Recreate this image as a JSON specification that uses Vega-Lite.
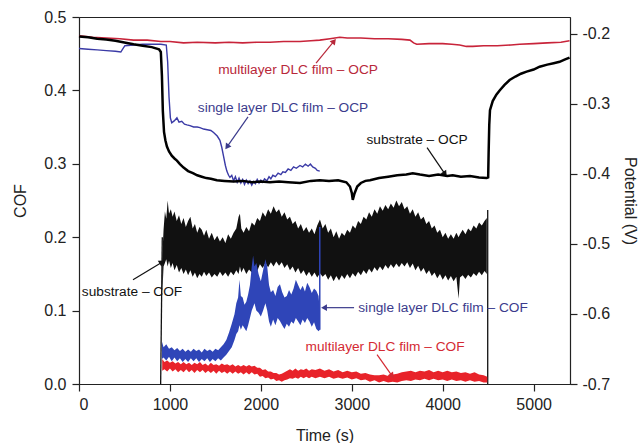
{
  "$schema": "https://vega.github.io/schema/vega-lite/v6.json",
  "width": 491,
  "height": 367,
  "autosize": {"type": "none"},
  "padding": {"left": 79, "top": 17, "right": 70, "bottom": 59},
  "background": "white",
  "config": {
    "view": {"stroke": "#222", "strokeWidth": 1},
    "axis": {"labelFont": "Liberation Sans", "titleFont": "Liberation Sans", "labelFontSize": 16, "titleFontSize": 16, "titleFontWeight": "normal", "grid": false, "domainColor": "#222", "tickColor": "#222", "labelColor": "#222", "titleColor": "#222", "tickSize": 7, "domainWidth": 1.2, "tickWidth": 1.2}
  },
  "datasets": {
    "subCOF": [
      {"t":915,"lo":0.12,"hi":0.17},{"t":930,"lo":0.16,"hi":0.21},{"t":945,"lo":0.165,"hi":0.235},{"t":960,"lo":0.17,"hi":0.225},{"t":975,"lo":0.16,"hi":0.25},{"t":990,"lo":0.168,"hi":0.232},{"t":1010,"lo":0.158,"hi":0.238},{"t":1030,"lo":0.165,"hi":0.228},{"t":1050,"lo":0.155,"hi":0.235},{"t":1075,"lo":0.162,"hi":0.222},{"t":1100,"lo":0.152,"hi":0.23},{"t":1125,"lo":0.158,"hi":0.218},{"t":1150,"lo":0.15,"hi":0.226},{"t":1175,"lo":0.156,"hi":0.214},{"t":1200,"lo":0.148,"hi":0.222},{"t":1225,"lo":0.155,"hi":0.228},{"t":1250,"lo":0.146,"hi":0.212},{"t":1275,"lo":0.152,"hi":0.218},{"t":1300,"lo":0.144,"hi":0.206},{"t":1325,"lo":0.15,"hi":0.214},{"t":1350,"lo":0.146,"hi":0.21},{"t":1375,"lo":0.153,"hi":0.202},{"t":1400,"lo":0.147,"hi":0.21},{"t":1430,"lo":0.152,"hi":0.198},{"t":1460,"lo":0.145,"hi":0.206},{"t":1490,"lo":0.15,"hi":0.196},{"t":1520,"lo":0.146,"hi":0.202},{"t":1550,"lo":0.153,"hi":0.194},{"t":1580,"lo":0.147,"hi":0.2},{"t":1610,"lo":0.152,"hi":0.192},{"t":1640,"lo":0.146,"hi":0.204},{"t":1670,"lo":0.153,"hi":0.198},{"t":1700,"lo":0.148,"hi":0.206},{"t":1730,"lo":0.155,"hi":0.212},{"t":1755,"lo":0.15,"hi":0.228},{"t":1770,"lo":0.16,"hi":0.232},{"t":1785,"lo":0.152,"hi":0.212},{"t":1810,"lo":0.158,"hi":0.206},{"t":1840,"lo":0.15,"hi":0.214},{"t":1870,"lo":0.156,"hi":0.208},{"t":1900,"lo":0.152,"hi":0.22},{"t":1930,"lo":0.16,"hi":0.216},{"t":1960,"lo":0.154,"hi":0.226},{"t":1990,"lo":0.163,"hi":0.222},{"t":2020,"lo":0.158,"hi":0.234},{"t":2050,"lo":0.165,"hi":0.228},{"t":2080,"lo":0.159,"hi":0.238},{"t":2110,"lo":0.166,"hi":0.232},{"t":2140,"lo":0.16,"hi":0.242},{"t":2170,"lo":0.167,"hi":0.234},{"t":2200,"lo":0.161,"hi":0.238},{"t":2230,"lo":0.166,"hi":0.228},{"t":2260,"lo":0.158,"hi":0.234},{"t":2290,"lo":0.163,"hi":0.224},{"t":2320,"lo":0.155,"hi":0.228},{"t":2350,"lo":0.16,"hi":0.218},{"t":2380,"lo":0.152,"hi":0.222},{"t":2410,"lo":0.158,"hi":0.212},{"t":2440,"lo":0.15,"hi":0.218},{"t":2470,"lo":0.155,"hi":0.208},{"t":2500,"lo":0.147,"hi":0.214},{"t":2530,"lo":0.153,"hi":0.206},{"t":2560,"lo":0.146,"hi":0.212},{"t":2590,"lo":0.152,"hi":0.204},{"t":2620,"lo":0.145,"hi":0.216},{"t":2650,"lo":0.151,"hi":0.224},{"t":2680,"lo":0.146,"hi":0.212},{"t":2710,"lo":0.15,"hi":0.218},{"t":2740,"lo":0.142,"hi":0.206},{"t":2770,"lo":0.148,"hi":0.212},{"t":2800,"lo":0.14,"hi":0.2},{"t":2830,"lo":0.147,"hi":0.208},{"t":2860,"lo":0.141,"hi":0.198},{"t":2890,"lo":0.148,"hi":0.206},{"t":2920,"lo":0.143,"hi":0.202},{"t":2950,"lo":0.15,"hi":0.21},{"t":2980,"lo":0.144,"hi":0.206},{"t":3010,"lo":0.151,"hi":0.216},{"t":3040,"lo":0.146,"hi":0.212},{"t":3070,"lo":0.153,"hi":0.222},{"t":3100,"lo":0.148,"hi":0.218},{"t":3130,"lo":0.155,"hi":0.228},{"t":3160,"lo":0.15,"hi":0.224},{"t":3190,"lo":0.157,"hi":0.234},{"t":3220,"lo":0.152,"hi":0.228},{"t":3250,"lo":0.159,"hi":0.238},{"t":3280,"lo":0.154,"hi":0.232},{"t":3310,"lo":0.16,"hi":0.242},{"t":3340,"lo":0.155,"hi":0.236},{"t":3370,"lo":0.162,"hi":0.244},{"t":3400,"lo":0.157,"hi":0.238},{"t":3430,"lo":0.163,"hi":0.246},{"t":3460,"lo":0.158,"hi":0.24},{"t":3490,"lo":0.164,"hi":0.25},{"t":3520,"lo":0.159,"hi":0.242},{"t":3550,"lo":0.165,"hi":0.248},{"t":3580,"lo":0.16,"hi":0.238},{"t":3610,"lo":0.166,"hi":0.242},{"t":3640,"lo":0.158,"hi":0.232},{"t":3670,"lo":0.164,"hi":0.238},{"t":3700,"lo":0.155,"hi":0.228},{"t":3730,"lo":0.161,"hi":0.234},{"t":3760,"lo":0.153,"hi":0.224},{"t":3790,"lo":0.158,"hi":0.228},{"t":3820,"lo":0.15,"hi":0.218},{"t":3850,"lo":0.155,"hi":0.222},{"t":3880,"lo":0.147,"hi":0.212},{"t":3910,"lo":0.152,"hi":0.216},{"t":3940,"lo":0.144,"hi":0.206},{"t":3970,"lo":0.15,"hi":0.21},{"t":4000,"lo":0.142,"hi":0.2},{"t":4030,"lo":0.148,"hi":0.206},{"t":4060,"lo":0.141,"hi":0.198},{"t":4090,"lo":0.147,"hi":0.204},{"t":4120,"lo":0.14,"hi":0.198},{"t":4150,"lo":0.146,"hi":0.206},{"t":4175,"lo":0.116,"hi":0.2},{"t":4190,"lo":0.145,"hi":0.204},{"t":4220,"lo":0.148,"hi":0.21},{"t":4250,"lo":0.143,"hi":0.204},{"t":4280,"lo":0.149,"hi":0.212},{"t":4310,"lo":0.145,"hi":0.208},{"t":4340,"lo":0.151,"hi":0.216},{"t":4370,"lo":0.147,"hi":0.212},{"t":4400,"lo":0.153,"hi":0.22},{"t":4430,"lo":0.148,"hi":0.216},{"t":4460,"lo":0.154,"hi":0.222},{"t":4485,"lo":0.15,"hi":0.226}
    ],
    "subEdges": [
      {"t":898,"lo":0.0,"t2":916,"hi":0.2},
      {"t":4495,"lo":0.0,"t2":4495,"hi":0.237}
    ],
    "singleCOF": [
      {"t":912,"lo":0.034,"hi":0.058},{"t":930,"lo":0.036,"hi":0.05},{"t":960,"lo":0.032,"hi":0.054},{"t":990,"lo":0.037,"hi":0.048},{"t":1020,"lo":0.031,"hi":0.05},{"t":1050,"lo":0.036,"hi":0.046},{"t":1080,"lo":0.031,"hi":0.049},{"t":1110,"lo":0.035,"hi":0.045},{"t":1140,"lo":0.03,"hi":0.048},{"t":1170,"lo":0.034,"hi":0.044},{"t":1200,"lo":0.03,"hi":0.047},{"t":1230,"lo":0.035,"hi":0.044},{"t":1260,"lo":0.031,"hi":0.048},{"t":1290,"lo":0.035,"hi":0.045},{"t":1320,"lo":0.03,"hi":0.047},{"t":1350,"lo":0.034,"hi":0.043},{"t":1380,"lo":0.031,"hi":0.048},{"t":1410,"lo":0.035,"hi":0.045},{"t":1440,"lo":0.03,"hi":0.047},{"t":1470,"lo":0.034,"hi":0.044},{"t":1500,"lo":0.031,"hi":0.048},{"t":1530,"lo":0.035,"hi":0.046},{"t":1560,"lo":0.032,"hi":0.05},{"t":1590,"lo":0.036,"hi":0.054},{"t":1620,"lo":0.04,"hi":0.06},{"t":1650,"lo":0.045,"hi":0.07},{"t":1680,"lo":0.05,"hi":0.082},{"t":1710,"lo":0.06,"hi":0.095},{"t":1730,"lo":0.068,"hi":0.11},{"t":1750,"lo":0.072,"hi":0.118},{"t":1765,"lo":0.08,"hi":0.142},{"t":1780,"lo":0.074,"hi":0.12},{"t":1800,"lo":0.08,"hi":0.118},{"t":1820,"lo":0.076,"hi":0.108},{"t":1840,"lo":0.072,"hi":0.112},{"t":1860,"lo":0.08,"hi":0.122},{"t":1880,"lo":0.09,"hi":0.135},{"t":1900,"lo":0.1,"hi":0.16},{"t":1915,"lo":0.105,"hi":0.175},{"t":1930,"lo":0.11,"hi":0.16},{"t":1950,"lo":0.1,"hi":0.165},{"t":1975,"lo":0.097,"hi":0.15},{"t":2000,"lo":0.092,"hi":0.14},{"t":2025,"lo":0.1,"hi":0.155},{"t":2050,"lo":0.11,"hi":0.17},{"t":2070,"lo":0.1,"hi":0.16},{"t":2090,"lo":0.085,"hi":0.135},{"t":2110,"lo":0.078,"hi":0.125},{"t":2135,"lo":0.088,"hi":0.128},{"t":2160,"lo":0.08,"hi":0.12},{"t":2185,"lo":0.09,"hi":0.132},{"t":2210,"lo":0.086,"hi":0.136},{"t":2235,"lo":0.08,"hi":0.125},{"t":2260,"lo":0.075,"hi":0.118},{"t":2285,"lo":0.082,"hi":0.12},{"t":2310,"lo":0.078,"hi":0.128},{"t":2335,"lo":0.085,"hi":0.122},{"t":2360,"lo":0.082,"hi":0.13},{"t":2385,"lo":0.09,"hi":0.142},{"t":2410,"lo":0.085,"hi":0.135},{"t":2435,"lo":0.08,"hi":0.128},{"t":2460,"lo":0.088,"hi":0.134},{"t":2485,"lo":0.083,"hi":0.126},{"t":2510,"lo":0.09,"hi":0.138},{"t":2535,"lo":0.085,"hi":0.132},{"t":2560,"lo":0.078,"hi":0.124},{"t":2585,"lo":0.084,"hi":0.13},{"t":2610,"lo":0.075,"hi":0.127},{"t":2635,"lo":0.072,"hi":0.12},{"t":2648,"lo":0.074,"hi":0.1}
    ],
    "singleEdges": [
      {"t":2648,"lo":0.074,"t2":2648,"hi":0.214}
    ],
    "multiCOF": [
      {"t":915,"lo":0.018,"hi":0.034},{"t":940,"lo":0.02,"hi":0.03},{"t":970,"lo":0.017,"hi":0.032},{"t":1000,"lo":0.021,"hi":0.029},{"t":1030,"lo":0.017,"hi":0.031},{"t":1060,"lo":0.02,"hi":0.028},{"t":1090,"lo":0.016,"hi":0.03},{"t":1120,"lo":0.019,"hi":0.027},{"t":1150,"lo":0.016,"hi":0.03},{"t":1180,"lo":0.02,"hi":0.027},{"t":1210,"lo":0.016,"hi":0.029},{"t":1240,"lo":0.019,"hi":0.026},{"t":1270,"lo":0.015,"hi":0.029},{"t":1300,"lo":0.019,"hi":0.027},{"t":1330,"lo":0.016,"hi":0.03},{"t":1360,"lo":0.019,"hi":0.026},{"t":1390,"lo":0.015,"hi":0.028},{"t":1420,"lo":0.018,"hi":0.025},{"t":1450,"lo":0.015,"hi":0.029},{"t":1480,"lo":0.018,"hi":0.026},{"t":1510,"lo":0.014,"hi":0.027},{"t":1540,"lo":0.018,"hi":0.025},{"t":1570,"lo":0.015,"hi":0.028},{"t":1600,"lo":0.017,"hi":0.026},{"t":1630,"lo":0.014,"hi":0.027},{"t":1660,"lo":0.017,"hi":0.025},{"t":1690,"lo":0.014,"hi":0.027},{"t":1720,"lo":0.017,"hi":0.024},{"t":1750,"lo":0.014,"hi":0.026},{"t":1780,"lo":0.016,"hi":0.024},{"t":1810,"lo":0.013,"hi":0.026},{"t":1840,"lo":0.016,"hi":0.024},{"t":1870,"lo":0.013,"hi":0.026},{"t":1900,"lo":0.016,"hi":0.024},{"t":1930,"lo":0.013,"hi":0.025},{"t":1960,"lo":0.014,"hi":0.022},{"t":1990,"lo":0.01,"hi":0.022},{"t":2020,"lo":0.011,"hi":0.019},{"t":2050,"lo":0.008,"hi":0.02},{"t":2080,"lo":0.009,"hi":0.017},{"t":2110,"lo":0.006,"hi":0.017},{"t":2140,"lo":0.007,"hi":0.015},{"t":2170,"lo":0.004,"hi":0.015},{"t":2200,"lo":0.005,"hi":0.013},{"t":2230,"lo":0.003,"hi":0.014},{"t":2260,"lo":0.005,"hi":0.016},{"t":2290,"lo":0.006,"hi":0.018},{"t":2320,"lo":0.008,"hi":0.02},{"t":2350,"lo":0.007,"hi":0.018},{"t":2380,"lo":0.009,"hi":0.021},{"t":2410,"lo":0.007,"hi":0.018},{"t":2440,"lo":0.01,"hi":0.02},{"t":2470,"lo":0.008,"hi":0.019},{"t":2500,"lo":0.01,"hi":0.021},{"t":2530,"lo":0.008,"hi":0.018},{"t":2560,"lo":0.01,"hi":0.02},{"t":2600,"lo":0.008,"hi":0.019},{"t":2650,"lo":0.01,"hi":0.021},{"t":2700,"lo":0.008,"hi":0.018},{"t":2750,"lo":0.01,"hi":0.02},{"t":2800,"lo":0.007,"hi":0.017},{"t":2850,"lo":0.009,"hi":0.019},{"t":2900,"lo":0.007,"hi":0.016},{"t":2950,"lo":0.009,"hi":0.018},{"t":3000,"lo":0.006,"hi":0.016},{"t":3050,"lo":0.008,"hi":0.017},{"t":3100,"lo":0.005,"hi":0.014},{"t":3150,"lo":0.006,"hi":0.015},{"t":3200,"lo":0.003,"hi":0.013},{"t":3250,"lo":0.005,"hi":0.012},{"t":3300,"lo":0.002,"hi":0.012},{"t":3350,"lo":0.004,"hi":0.013},{"t":3400,"lo":0.002,"hi":0.011},{"t":3450,"lo":0.003,"hi":0.013},{"t":3500,"lo":0.002,"hi":0.014},{"t":3550,"lo":0.004,"hi":0.016},{"t":3600,"lo":0.005,"hi":0.017},{"t":3650,"lo":0.004,"hi":0.018},{"t":3700,"lo":0.006,"hi":0.016},{"t":3750,"lo":0.005,"hi":0.018},{"t":3800,"lo":0.007,"hi":0.017},{"t":3850,"lo":0.005,"hi":0.019},{"t":3900,"lo":0.007,"hi":0.016},{"t":3950,"lo":0.005,"hi":0.018},{"t":4000,"lo":0.006,"hi":0.016},{"t":4050,"lo":0.004,"hi":0.018},{"t":4100,"lo":0.006,"hi":0.016},{"t":4150,"lo":0.004,"hi":0.017},{"t":4200,"lo":0.005,"hi":0.015},{"t":4250,"lo":0.003,"hi":0.016},{"t":4300,"lo":0.005,"hi":0.014},{"t":4350,"lo":0.003,"hi":0.016},{"t":4400,"lo":0.004,"hi":0.013},{"t":4450,"lo":0.002,"hi":0.012},{"t":4490,"lo":0.002,"hi":0.01}
    ],
    "subOCP": [
      {"t":0,"v":-0.204},{"t":100,"v":-0.205},{"t":200,"v":-0.207},{"t":300,"v":-0.208},{"t":400,"v":-0.21},{"t":527,"v":-0.213},{"t":600,"v":-0.215},{"t":700,"v":-0.217},{"t":800,"v":-0.219},{"t":880,"v":-0.222},{"t":900,"v":-0.226},{"t":912,"v":-0.26},{"t":922,"v":-0.31},{"t":935,"v":-0.34},{"t":950,"v":-0.352},{"t":967,"v":-0.361},{"t":990,"v":-0.368},{"t":1020,"v":-0.374},{"t":1050,"v":-0.378},{"t":1077,"v":-0.381},{"t":1110,"v":-0.386},{"t":1150,"v":-0.391},{"t":1200,"v":-0.396},{"t":1253,"v":-0.399},{"t":1300,"v":-0.402},{"t":1350,"v":-0.404},{"t":1400,"v":-0.406},{"t":1450,"v":-0.407},{"t":1516,"v":-0.409},{"t":1600,"v":-0.41},{"t":1700,"v":-0.411},{"t":1800,"v":-0.41},{"t":1900,"v":-0.412},{"t":2000,"v":-0.411},{"t":2100,"v":-0.412},{"t":2200,"v":-0.411},{"t":2300,"v":-0.412},{"t":2430,"v":-0.413},{"t":2550,"v":-0.41},{"t":2648,"v":-0.409},{"t":2750,"v":-0.41},{"t":2850,"v":-0.409},{"t":2940,"v":-0.412},{"t":2980,"v":-0.418},{"t":3000,"v":-0.427},{"t":3011,"v":-0.437},{"t":3030,"v":-0.428},{"t":3060,"v":-0.418},{"t":3100,"v":-0.413},{"t":3150,"v":-0.41},{"t":3200,"v":-0.409},{"t":3300,"v":-0.406},{"t":3400,"v":-0.404},{"t":3500,"v":-0.402},{"t":3600,"v":-0.401},{"t":3670,"v":-0.399},{"t":3750,"v":-0.401},{"t":3850,"v":-0.403},{"t":3950,"v":-0.401},{"t":4050,"v":-0.403},{"t":4110,"v":-0.402},{"t":4200,"v":-0.404},{"t":4300,"v":-0.403},{"t":4400,"v":-0.405},{"t":4483,"v":-0.406},{"t":4500,"v":-0.405},{"t":4505,"v":-0.37},{"t":4512,"v":-0.33},{"t":4520,"v":-0.309},{"t":4550,"v":-0.296},{"t":4590,"v":-0.287},{"t":4626,"v":-0.281},{"t":4680,"v":-0.273},{"t":4736,"v":-0.266},{"t":4800,"v":-0.261},{"t":4860,"v":-0.257},{"t":4923,"v":-0.254},{"t":5000,"v":-0.251},{"t":5066,"v":-0.247},{"t":5150,"v":-0.244},{"t":5220,"v":-0.242},{"t":5286,"v":-0.24},{"t":5340,"v":-0.237},{"t":5395,"v":-0.234}
    ],
    "singleOCP": [
      {"t":0,"v":-0.221},{"t":100,"v":-0.222},{"t":200,"v":-0.223},{"t":300,"v":-0.224},{"t":400,"v":-0.225},{"t":460,"v":-0.226},{"t":480,"v":-0.222},{"t":505,"v":-0.217},{"t":600,"v":-0.216},{"t":700,"v":-0.215},{"t":800,"v":-0.215},{"t":900,"v":-0.215},{"t":960,"v":-0.216},{"t":975,"v":-0.24},{"t":990,"v":-0.29},{"t":1005,"v":-0.32},{"t":1020,"v":-0.327},{"t":1050,"v":-0.324},{"t":1077,"v":-0.32},{"t":1100,"v":-0.326},{"t":1130,"v":-0.325},{"t":1160,"v":-0.329},{"t":1187,"v":-0.33},{"t":1220,"v":-0.331},{"t":1260,"v":-0.333},{"t":1300,"v":-0.333},{"t":1330,"v":-0.334},{"t":1370,"v":-0.336},{"t":1410,"v":-0.337},{"t":1450,"v":-0.338},{"t":1480,"v":-0.341},{"t":1520,"v":-0.346},{"t":1550,"v":-0.352},{"t":1570,"v":-0.362},{"t":1590,"v":-0.375},{"t":1610,"v":-0.388},{"t":1626,"v":-0.396},{"t":1645,"v":-0.402},{"t":1660,"v":-0.405},{"t":1680,"v":-0.402},{"t":1700,"v":-0.41},{"t":1720,"v":-0.404},{"t":1740,"v":-0.412},{"t":1760,"v":-0.406},{"t":1780,"v":-0.413},{"t":1800,"v":-0.408},{"t":1820,"v":-0.415},{"t":1840,"v":-0.409},{"t":1860,"v":-0.414},{"t":1880,"v":-0.41},{"t":1900,"v":-0.416},{"t":1920,"v":-0.411},{"t":1940,"v":-0.414},{"t":1960,"v":-0.408},{"t":1980,"v":-0.413},{"t":2000,"v":-0.409},{"t":2020,"v":-0.412},{"t":2040,"v":-0.407},{"t":2066,"v":-0.41},{"t":2090,"v":-0.404},{"t":2110,"v":-0.407},{"t":2132,"v":-0.402},{"t":2160,"v":-0.404},{"t":2190,"v":-0.399},{"t":2220,"v":-0.401},{"t":2242,"v":-0.397},{"t":2270,"v":-0.398},{"t":2300,"v":-0.393},{"t":2330,"v":-0.395},{"t":2360,"v":-0.39},{"t":2390,"v":-0.392},{"t":2430,"v":-0.388},{"t":2460,"v":-0.39},{"t":2490,"v":-0.386},{"t":2520,"v":-0.389},{"t":2545,"v":-0.386},{"t":2570,"v":-0.39},{"t":2600,"v":-0.392},{"t":2620,"v":-0.395},{"t":2648,"v":-0.396}
    ],
    "multiOCP": [
      {"t":0,"v":-0.203},{"t":150,"v":-0.205},{"t":300,"v":-0.206},{"t":450,"v":-0.207},{"t":600,"v":-0.209},{"t":750,"v":-0.209},{"t":900,"v":-0.211},{"t":1000,"v":-0.211},{"t":1150,"v":-0.213},{"t":1300,"v":-0.212},{"t":1500,"v":-0.213},{"t":1650,"v":-0.212},{"t":1800,"v":-0.213},{"t":1950,"v":-0.212},{"t":2100,"v":-0.212},{"t":2250,"v":-0.211},{"t":2430,"v":-0.211},{"t":2550,"v":-0.21},{"t":2648,"v":-0.209},{"t":2760,"v":-0.207},{"t":2868,"v":-0.205},{"t":2950,"v":-0.206},{"t":3100,"v":-0.206},{"t":3250,"v":-0.207},{"t":3400,"v":-0.207},{"t":3550,"v":-0.208},{"t":3640,"v":-0.209},{"t":3680,"v":-0.213},{"t":3714,"v":-0.215},{"t":3850,"v":-0.214},{"t":4000,"v":-0.214},{"t":4100,"v":-0.215},{"t":4187,"v":-0.216},{"t":4260,"v":-0.218},{"t":4330,"v":-0.218},{"t":4450,"v":-0.217},{"t":4600,"v":-0.217},{"t":4750,"v":-0.216},{"t":4846,"v":-0.215},{"t":5000,"v":-0.214},{"t":5150,"v":-0.213},{"t":5300,"v":-0.212},{"t":5395,"v":-0.21}
    ],
    "labels": [
      {"id":"a1","t":2409,"c":0.428,"label":"multilayer DLC film – OCP"},
      {"id":"a2","t":2244,"c":0.376,"label":"single layer DLC film – OCP"},
      {"id":"a3","t":3718,"c":0.332,"label":"substrate – OCP"},
      {"id":"a4","t":583,"c":0.125,"label":"substrate – COF"},
      {"id":"a5","t":4004,"c":0.104,"label":"single layer DLC film – COF"},
      {"id":"a6","t":3366,"c":0.05,"label":"multilayer DLC film – COF"}
    ],
    "arrows": [
      {"id":"a1","t":2607,"c":0.437,"t2":2805,"c2":0.467},
      {"id":"a2","t":1859,"c":0.364,"t2":1628,"c2":0.323},
      {"id":"a3","t":3828,"c":0.322,"t2":4026,"c2":0.286},
      {"id":"a4","t":594,"c":0.142,"t2":913,"c2":0.166},
      {"id":"a5","t":3025,"c":0.104,"t2":2695,"c2":0.104},
      {"id":"a6","t":3278,"c":0.04,"t2":3443,"c2":0.011}
    ]
  },
  "encoding": {
    "x": {"field": "t", "type": "quantitative", "title": "Time (s)",
      "scale": {"domain": [0, 5400], "nice": false},
      "axis": {"values": [0, 1000, 2000, 3000, 4000, 5000], "format": "d", "labelPadding": 5, "titlePadding": 15}}
  },
  "layer": [
    {
      "layer": [
        {
          "data": {"name": "subCOF"},
          "mark": {"type": "area", "color": "#111111", "opacity": 1},
          "encoding": {
            "y": {"field": "lo", "type": "quantitative", "title": "COF",
              "scale": {"domain": [0, 0.5], "nice": false, "zero": false},
              "axis": {"orient": "left", "values": [0, 0.1, 0.2, 0.3, 0.4, 0.5], "format": ".1f", "labelPadding": 6, "titlePadding": 15}},
            "y2": {"field": "hi"}
          }
        },
        {
          "data": {"name": "subEdges"},
          "mark": {"type": "rule", "color": "#111111", "strokeWidth": 1.3},
          "encoding": {
            "y": {"field": "lo", "type": "quantitative", "title": "COF", "scale": {"domain": [0, 0.5], "nice": false, "zero": false}},
            "x2": {"field": "t2"},
            "y2": {"field": "hi"}
          }
        },
        {
          "data": {"name": "singleCOF"},
          "mark": {"type": "area", "color": "#2f45b8", "opacity": 1},
          "encoding": {
            "y": {"field": "lo", "type": "quantitative", "title": "COF", "scale": {"domain": [0, 0.5], "nice": false, "zero": false}},
            "y2": {"field": "hi"}
          }
        },
        {
          "data": {"name": "singleEdges"},
          "mark": {"type": "rule", "color": "#2f45b8", "strokeWidth": 1.5},
          "encoding": {
            "y": {"field": "lo", "type": "quantitative", "title": "COF", "scale": {"domain": [0, 0.5], "nice": false, "zero": false}},
            "x2": {"field": "t2"},
            "y2": {"field": "hi"}
          }
        },
        {
          "data": {"name": "multiCOF"},
          "mark": {"type": "area", "color": "#e8232a", "opacity": 1},
          "encoding": {
            "y": {"field": "lo", "type": "quantitative", "title": "COF", "scale": {"domain": [0, 0.5], "nice": false, "zero": false}},
            "y2": {"field": "hi"}
          }
        },
        {
          "data": {"name": "arrows"},
          "mark": {"type": "rule", "strokeWidth": 1.2},
          "encoding": {
            "y": {"field": "c", "type": "quantitative", "title": "COF", "scale": {"domain": [0, 0.5], "nice": false, "zero": false}},
            "x2": {"field": "t2"},
            "y2": {"field": "c2"},
            "color": {"field": "id", "type": "nominal", "legend": null,
              "scale": {"domain": ["a1","a2","a3","a4","a5","a6"], "range": ["#b8283a","#3b3b8c","#111111","#111111","#3b3b8c","#d42a33"]}}
          }
        },
        {
          "data": {"name": "arrows"},
          "mark": {"type": "point", "shape": "triangle-up", "filled": true, "size": 45, "opacity": 1},
          "encoding": {
            "x": {"field": "t2", "type": "quantitative", "title": "Time (s)"},
            "y": {"field": "c2", "type": "quantitative", "title": "COF", "scale": {"domain": [0, 0.5], "nice": false, "zero": false}},
            "color": {"field": "id", "type": "nominal", "legend": null,
              "scale": {"domain": ["a1","a2","a3","a4","a5","a6"], "range": ["#b8283a","#3b3b8c","#111111","#111111","#3b3b8c","#d42a33"]}},
            "angle": {"field": "id", "type": "nominal", "legend": null,
              "scale": {"type": "ordinal", "domain": ["a1","a2","a3","a4","a5","a6"], "range": [39, 215, 145, 58, 270, 144]}}
          }
        },
        {
          "data": {"name": "labels"},
          "mark": {"type": "text", "font": "Liberation Sans", "fontSize": 13.7, "align": "center", "baseline": "middle"},
          "encoding": {
            "y": {"field": "c", "type": "quantitative", "title": "COF", "scale": {"domain": [0, 0.5], "nice": false, "zero": false}},
            "text": {"field": "label"},
            "color": {"field": "id", "type": "nominal", "legend": null,
              "scale": {"domain": ["a1","a2","a3","a4","a5","a6"], "range": ["#b8283a","#3b3b8c","#111111","#111111","#3b3b8c","#d42a33"]}}
          }
        }
      ]
    },
    {
      "layer": [
        {
          "data": {"name": "multiOCP"},
          "mark": {"type": "line", "color": "#c8243a", "strokeWidth": 1.6},
          "encoding": {
            "y": {"field": "v", "type": "quantitative", "title": "Potential (V)",
              "scale": {"domain": [-0.7, -0.176], "nice": false, "zero": false},
              "axis": {"orient": "right", "values": [-0.7, -0.6, -0.5, -0.4, -0.3, -0.2], "format": ".1f", "labelExpr": "replace(datum.label, '−', '-')", "labelPadding": 5, "titlePadding": 12}}
          }
        },
        {
          "data": {"name": "singleOCP"},
          "mark": {"type": "line", "color": "#3a3aa6", "strokeWidth": 1.4},
          "encoding": {
            "y": {"field": "v", "type": "quantitative", "title": "Potential (V)", "scale": {"domain": [-0.7, -0.176], "nice": false, "zero": false}, "axis": {"orient": "right"}}
          }
        },
        {
          "data": {"name": "subOCP"},
          "mark": {"type": "line", "color": "#000000", "strokeWidth": 2.5},
          "encoding": {
            "y": {"field": "v", "type": "quantitative", "title": "Potential (V)", "scale": {"domain": [-0.7, -0.176], "nice": false, "zero": false}, "axis": {"orient": "right"}}
          }
        }
      ]
    }
  ],
  "resolve": {"scale": {"y": "independent"}}
}
